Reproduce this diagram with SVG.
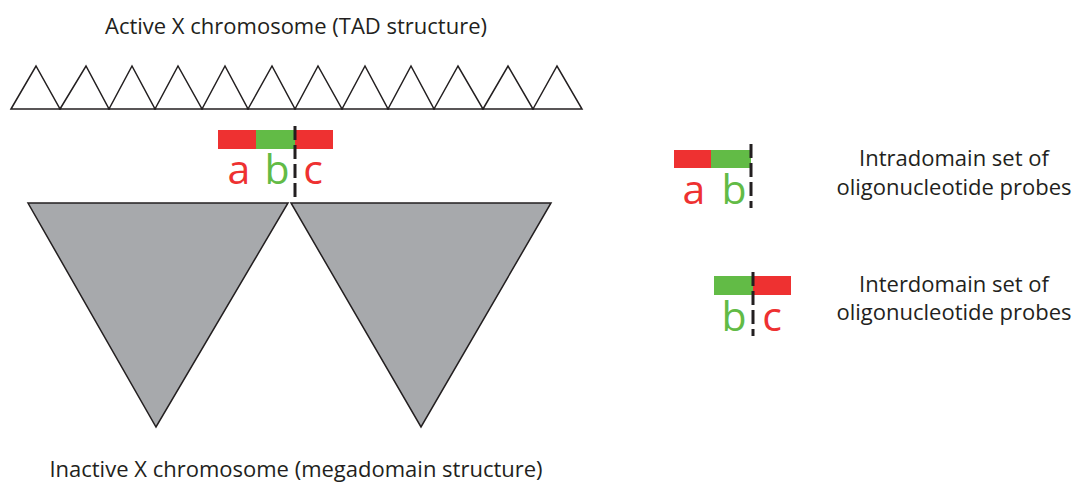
<svg xmlns="http://www.w3.org/2000/svg" width="1080" height="486" viewBox="0 0 1080 486">
<style>
.t{font-family:"Open Sans","Liberation Sans",sans-serif;font-size:22px;fill:#231f20;text-anchor:middle}
.l{font-family:"Open Sans","Liberation Sans",sans-serif;font-size:41px;text-anchor:middle}
.r{fill:#ee3131}.g{fill:#62bb46}
.tad{fill:#fff;stroke:#231f20;stroke-width:1.5;stroke-linejoin:miter}
.mega{fill:#a7a9ac;stroke:#231f20;stroke-width:1.5}
.dash{stroke:#231f20;stroke-width:3;stroke-dasharray:14,5;fill:none}
</style>
<rect width="1080" height="486" fill="#fff"/>
<g id="tad-structure">
<text class="t" x="296" y="34">Active X chromosome (TAD structure)</text>
<polygon class="tad" points="11,109 36,66 60,109"/>
<polygon class="tad" points="60,109 86,66 109,109"/>
<polygon class="tad" points="109,109 132,66 155,109"/>
<polygon class="tad" points="155,109 178,66 202,109"/>
<polygon class="tad" points="202,109 225,66 248,109"/>
<polygon class="tad" points="248,109 272,66 295,109"/>
<polygon class="tad" points="295,109 318,66 342,109"/>
<polygon class="tad" points="342,109 365,66 388,109"/>
<polygon class="tad" points="388,109 411,66 434,109"/>
<polygon class="tad" points="434,109 458,66 483,109"/>
<polygon class="tad" points="483,109 508,66 533,109"/>
<polygon class="tad" points="533,109 557,66 582,109"/>
</g>
<g id="megadomain-structure">
<polygon class="mega" points="28,203 288,203 156,427"/>
<polygon class="mega" points="291,203 551,203 421,427"/>
<text class="t" x="296" y="477">Inactive X chromosome (megadomain structure)</text>
</g>
<g id="probe-main">
<rect class="r" x="218" y="130" width="38" height="19"/>
<rect class="g" x="256" y="130" width="39" height="19"/>
<rect class="r" x="295" y="130" width="38" height="19"/>
<text class="l r" x="239" y="184">a</text>
<text class="l g" x="277" y="184">b</text>
<text class="l r" x="313" y="184">c</text>
<line class="dash" x1="295" y1="126" x2="295" y2="201"/>
</g>
<g id="probe-intradomain">
<rect class="r" x="674" y="150" width="37" height="18"/>
<rect class="g" x="711" y="150" width="40" height="18"/>
<text class="l r" x="694" y="204">a</text>
<text class="l g" x="734" y="204">b</text>
<line class="dash" x1="751" y1="144" x2="751" y2="208"/>
<text class="t" x="954" y="166">Intradomain set of</text>
<text class="t" x="954" y="195">oligonucleotide probes</text>
</g>
<g id="probe-interdomain">
<rect class="g" x="714" y="276" width="39" height="19"/>
<rect class="r" x="753" y="276" width="38" height="19"/>
<text class="l g" x="734" y="331">b</text>
<text class="l r" x="772" y="331">c</text>
<line class="dash" x1="753" y1="272" x2="753" y2="336"/>
<text class="t" x="954" y="292">Interdomain set of</text>
<text class="t" x="954" y="320">oligonucleotide probes</text>
</g>
<g id="connectors"></g>
</svg>
